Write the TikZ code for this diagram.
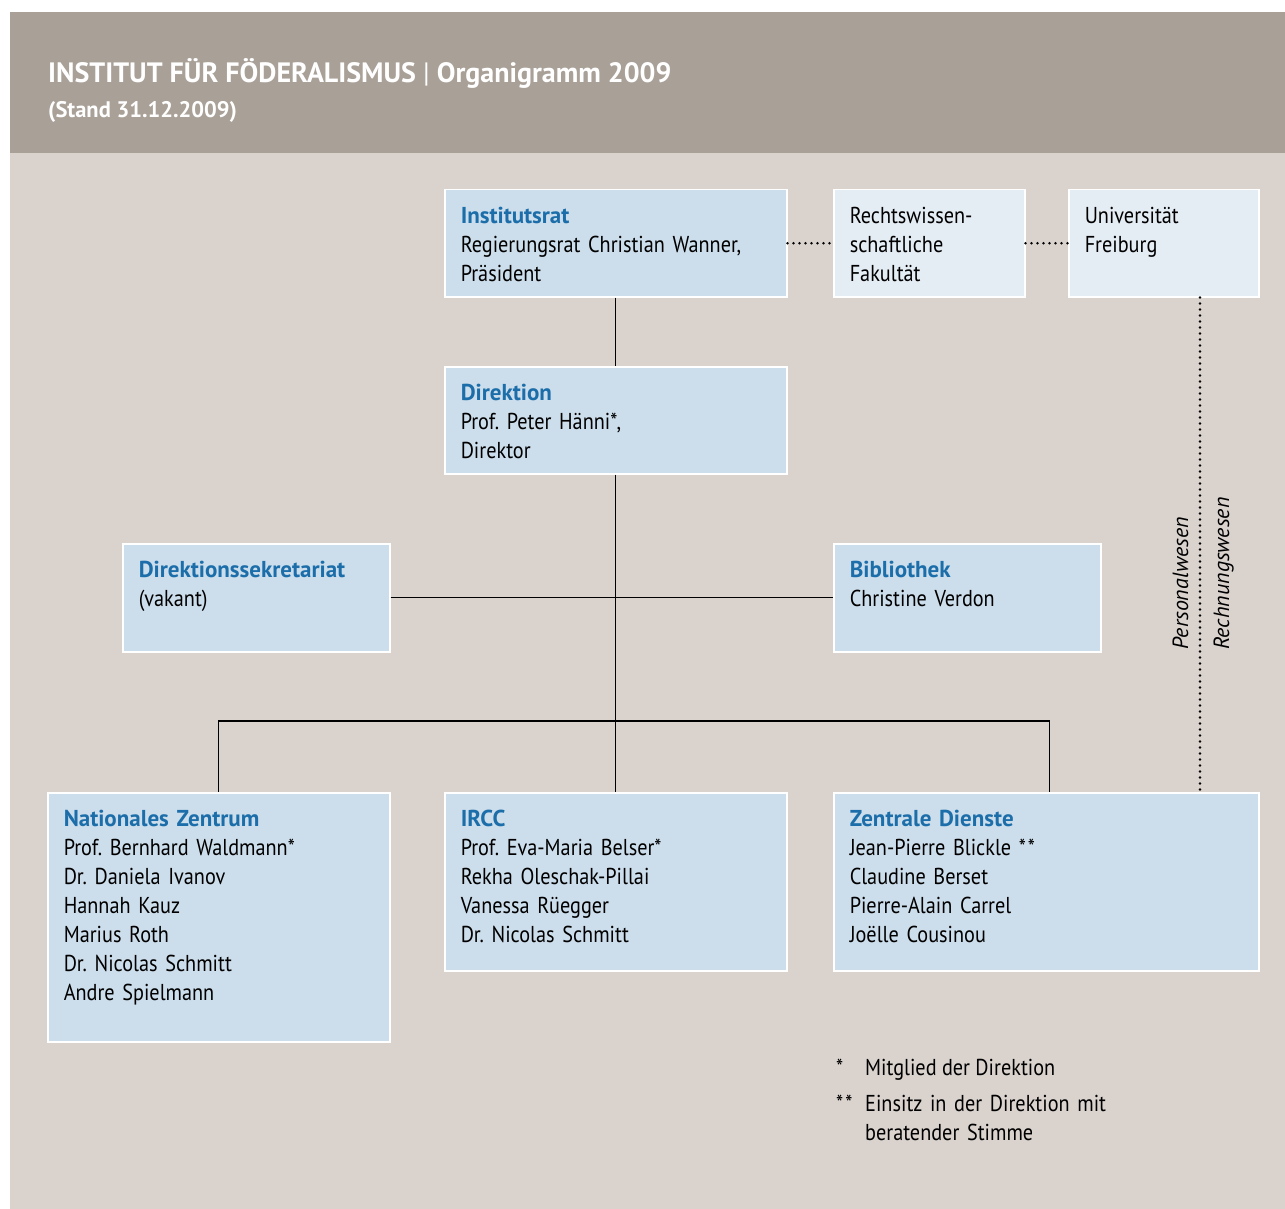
\documentclass[tikz,border=0pt]{standalone}
\usepackage{fontspec}
\setmainfont[FakeStretch=0.88]{PT Sans}
\newfontfamily\headfont{PT Sans}
\usepackage{tikz}
\usetikzlibrary{positioning, calc}

\definecolor{headgray}{HTML}{A9A097}
\definecolor{bodygray}{HTML}{D9D2CD}
\definecolor{boxblue}{HTML}{CCDDEB}
\definecolor{boxlight}{HTML}{E4ECF4}
\definecolor{unitblue}{HTML}{1B6EA9}

\newcommand{\unithead}[1]{{\headfont\bfseries\color{unitblue}#1}\\}
\frenchspacing

\begin{document}
\begin{tikzpicture}[x=1pt, y=-1pt,
  box/.style={draw=white, line width=1.5pt, fill=boxblue, anchor=north west,
    align=left, inner xsep=16pt, inner ysep=0pt, text height=34pt,
    font=\fontsize{23}{29}\selectfont},
  conn/.style={line width=1.4pt},
  dotline/.style={line width=2.6pt, line cap=round, dash pattern=on 0pt off 6pt},
  note/.style={anchor=base west, inner sep=0pt, font=\fontsize{23}{29}\selectfont},
  side/.style={note, rotate=90, font=\fontsize{22}{29}\selectfont\headfont\itshape}]

% background and header
\fill[white] (0,0) rectangle (1285,1209);
\fill[headgray] (10,12) rectangle (1285,153);
\fill[bodygray] (10,153) rectangle (1285,1209);
\node[anchor=base west, inner sep=0pt, text=white, font=\fontsize{28}{30}\selectfont\headfont\bfseries]
  (title) at (48,83) {INSTITUT FÜR FÖDERALISMUS {\mdseries|} Organigramm 2009};
\node[anchor=base west, inner sep=0pt, text=white, font=\fontsize{22.5}{24}\selectfont\headfont\bfseries]
  (stand) at (48,118) {(Stand 31.12.2009)};

% top row
\node[box, text width=310pt, text depth=73pt] (irat) at (444,189)
  {\unithead{Institutsrat}Regierungsrat Christian Wanner,\\Präsident};
\node[box, fill=boxlight, text width=159pt, text depth=73pt] (rwf) at (833,189)
  {Rechtswissen-\\schaftliche\\Fakultät};
\node[box, fill=boxlight, text width=158pt, text depth=73pt] (unifr) at (1068,189)
  {Universität\\Freiburg};

% direction and staff
\node[box, text width=310pt, text depth=73pt] (dir) at (444,366)
  {\unithead{Direktion}Prof. Peter Hänni*,\\Direktor};
\node[box, text width=235pt, text depth=74pt] (sek) at (122,543)
  {\unithead{Direktionssekretariat}(vakant)};
\node[box, text width=235pt, text depth=74pt] (bib) at (833,543)
  {\unithead{Bibliothek}Christine Verdon};

% units
\node[box, text width=310pt, text depth=215pt] (nz) at (47,792)
  {\unithead{Nationales Zentrum}Prof. Bernhard Waldmann*\\Dr. Daniela Ivanov\\Hannah Kauz\\Marius Roth\\Dr. Nicolas Schmitt\\Andre Spielmann};
\node[box, text width=310pt, text depth=144pt] (ircc) at (444,792)
  {\unithead{IRCC}Prof. Eva-Maria Belser*\\Rekha Oleschak-Pillai\\Vanessa Rüegger\\Dr. Nicolas Schmitt};
\node[box, text width=393pt, text depth=144pt] (zd) at (833,792)
  {\unithead{Zentrale Dienste}Jean-Pierre Blickle {*}\kern2pt{*}\\Claudine Berset\\Pierre-Alain Carrel\\Joëlle Cousinou};

% connectors
\coordinate (br) at (615,721);
\coordinate (pw) at (1200,792);
\draw[conn] (irat.south) -- (dir.north);
\draw[conn] (dir.south) -- (ircc.north);
\draw[conn] (sek.east) -- (bib.west);
\draw[conn] (nz.north) |- (br) -| ([xshift=3.5pt]zd.north);
\draw[dotline] (irat.east) -- (rwf.west);
\draw[dotline] (rwf.east) -- (unifr.west);
\draw[dotline] (pw |- unifr.south) -- (pw);

\node[side] (pers) at (1188,650) {Personalwesen};
\node[side] (rech) at (1229,650) {Rechnungswesen};

% footnotes
\node[note] (st1) at (836,1075) {*};
\node[note] (fn1) at (865,1075) {Mitglied der Direktion};
\node[note] (st2) at (836,1111) {{*}\kern2pt{*}};
\node[note, text width=260pt, align=left] (fn2) at (865,1111) {Einsitz in der Direktion mit\\beratender Stimme};
\end{tikzpicture}
\end{document}
